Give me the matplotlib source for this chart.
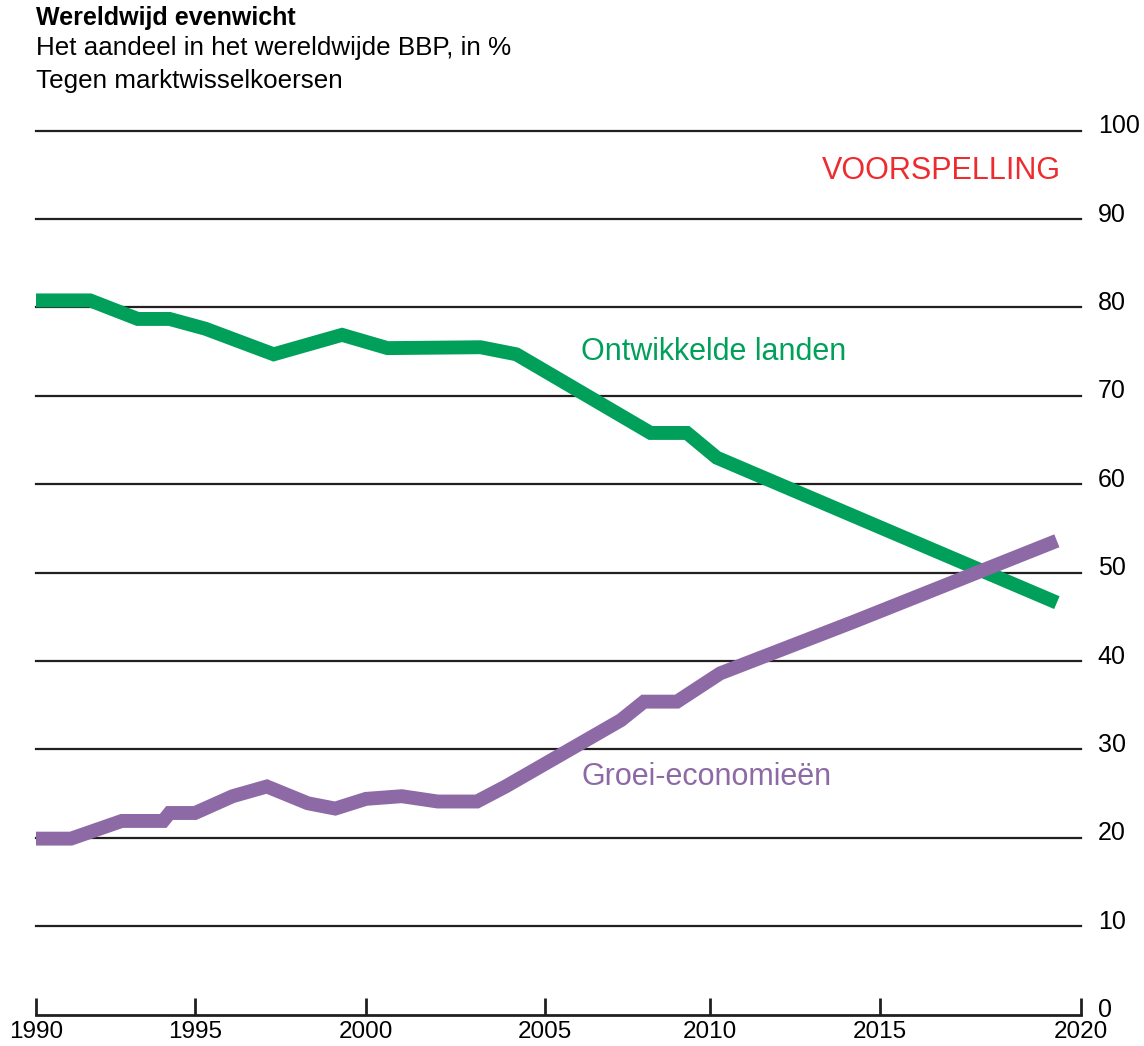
import numpy as np
import matplotlib
matplotlib.use("Agg")
import matplotlib.pyplot as plt
from matplotlib.transforms import ScaledTranslation

# Share of world GDP (%), at market exchange rates
years_dev = [1990.0, 1991.7, 1993.2, 1994.2, 1995.3, 1997.3, 1999.3, 2000.6,
             2003.2, 2004.2, 2008.2, 2009.3, 2010.2, 2019.4]
share_dev = [80.8, 80.8, 78.7, 78.7, 77.6, 74.7, 76.9, 75.4,
             75.5, 74.7, 65.8, 65.8, 63.0, 46.6]

years_emg = [1990.0, 1991.1, 1992.7, 1994.0, 1994.2, 1995.0, 1996.1, 1997.1,
             1998.3, 1999.1, 2000.0, 2001.0, 2002.0, 2003.1, 2003.9, 2007.3,
             2008.0, 2009.0, 2010.3, 2014.2, 2019.4]
share_emg = [19.9, 19.9, 21.9, 21.9, 22.8, 22.8, 24.7, 25.8,
             23.9, 23.3, 24.4, 24.7, 24.1, 24.1, 25.8, 33.3,
             35.4, 35.4, 38.6, 44.4, 53.6]

tick_years = [1990, 1995, 2000, 2005, 2010, 2015, 2020]
y_ticks = list(range(0, 101, 10))

# the printed time axis is not evenly spaced, so use a piecewise scale
tick_spacing = [0, 159, 330, 509, 674, 844, 1045]

def fwd(x):
    return np.interp(x, tick_years, tick_spacing)

def inv(x):
    return np.interp(x, tick_spacing, tick_years)

green = "#00A05A"
purple = "#8D69A5"
red = "#EE2B2F"
ink = "#231F20"

plt.rcParams["font.family"] = ["Liberation Sans", "DejaVu Sans"]

fig = plt.figure(figsize=(11.44, 10.46), dpi=100)
ax = fig.add_axes([0.03147, 0.03011, 0.91346, 0.84494])

ax.set_xscale("function", functions=(fwd, inv))
ax.set_xlim(1990, 2020)
ax.set_ylim(0, 100)

for v in y_ticks[1:]:
    ax.axhline(v, color=ink, lw=1.6, zorder=1, clip_on=False)

ax.plot(years_dev, share_dev, color=green, lw=10, solid_capstyle="butt",
        solid_joinstyle="miter", zorder=3, clip_on=False)
ax.plot(years_emg, share_emg, color=purple, lw=10, solid_capstyle="butt",
        solid_joinstyle="miter", zorder=4, clip_on=False)

for s in ["top", "left", "right"]:
    ax.spines[s].set_visible(False)
ax.spines["bottom"].set_color(ink)
ax.spines["bottom"].set_linewidth(2)

ax.set_xticks(tick_years)
ax.set_xticklabels([str(y) for y in tick_years])
ax.tick_params(axis="x", direction="in", length=12, width=2, color=ink,
               labelsize=17.5, pad=4.5)

ax.set_yticks(y_ticks)
ax.set_yticklabels([str(v) for v in y_ticks])
ax.yaxis.tick_right()
ax.tick_params(axis="y", length=0, labelsize=18, pad=12)
# labels sit a little above their gridlines
nudge = ScaledTranslation(0, 5 / 72, fig.dpi_scale_trans)
for t in ax.yaxis.get_major_ticks():
    t.label2.set_transform(t.label2.get_transform() + nudge)
ax.set_facecolor("none")

ax.text(2019.5, 94.5, "VOORSPELLING", color=red, fontsize=22,
        ha="right", va="baseline")
ax.text(2006.1, 74.1, "Ontwikkelde landen", color=green, fontsize=22,
        ha="left", va="baseline")
ax.text(2006.1, 26.0, "Groei-economieën", color=purple, fontsize=22,
        ha="left", va="baseline")

fig.text(0.0315, 0.976, "Wereldwijd evenwicht", fontsize=18,
         fontweight="bold", va="baseline")
fig.text(0.0315, 0.947, "Het aandeel in het wereldwijde BBP, in %",
         fontsize=18.7, va="baseline")
fig.text(0.0315, 0.916, "Tegen marktwisselkoersen", fontsize=18.7,
         va="baseline")

fig.savefig("out.png", dpi=100)
